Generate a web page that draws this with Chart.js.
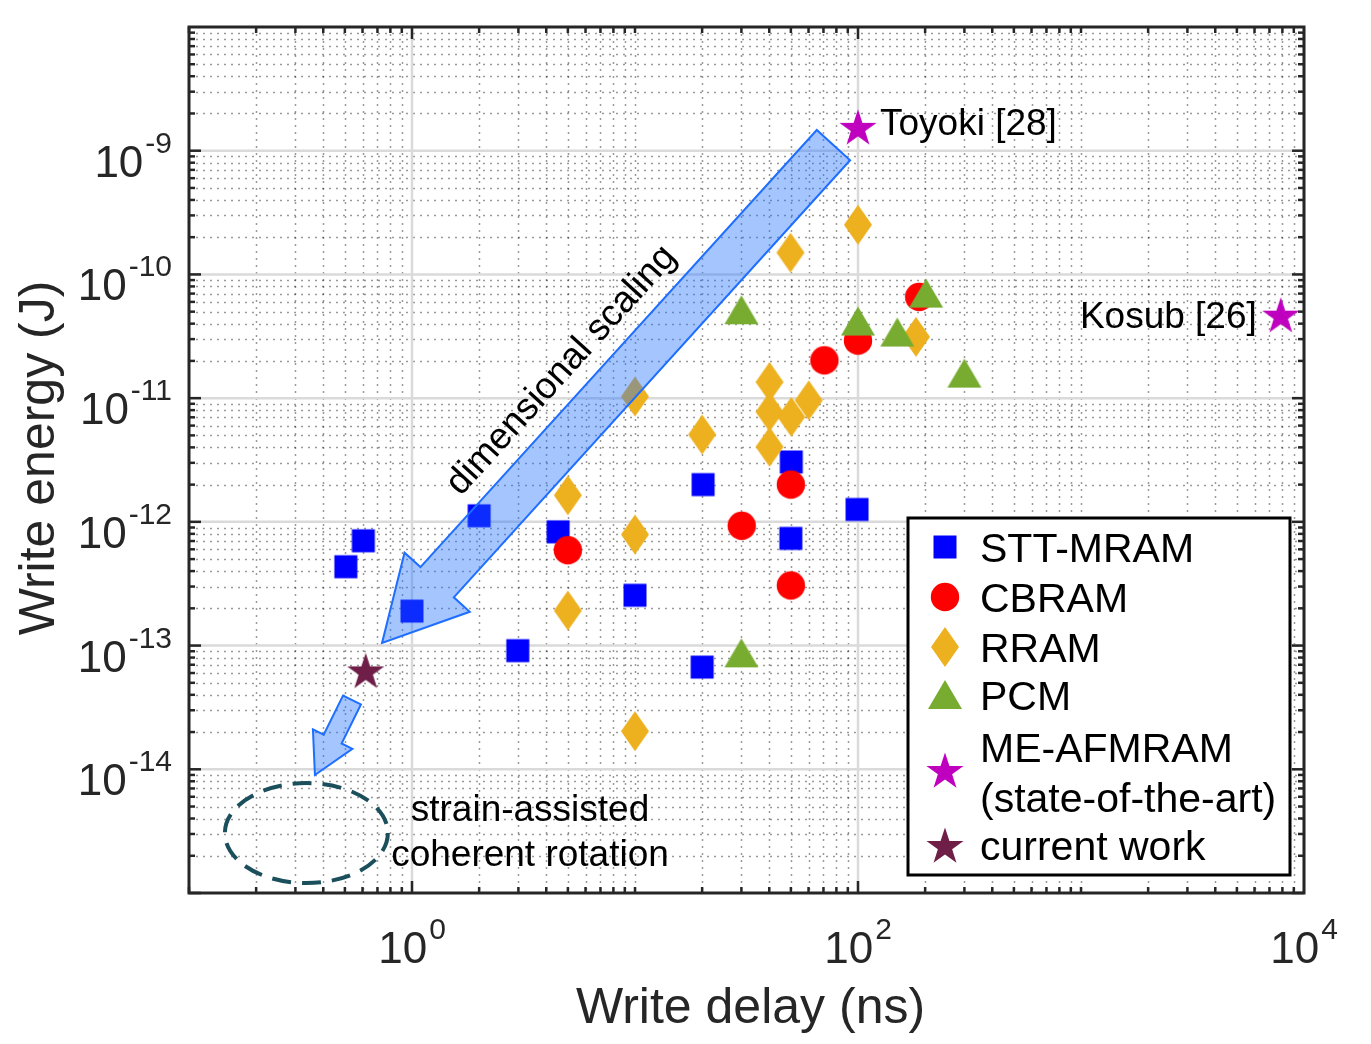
<!DOCTYPE html>
<html>
<head>
<meta charset="utf-8">
<title>Write energy vs write delay</title>
<script src="https://cdn.jsdelivr.net/npm/chart.js@4.4.1/dist/chart.umd.min.js"></script>
<style>
  html, body { margin: 0; padding: 0; background: #fff; }
  #wrap { width: 1371px; height: 1044px; }
</style>
</head>
<body>
<div id="wrap"><canvas id="chart" width="1371" height="1044"></canvas></div>
<script>
// write delay (ns) / write energy (J)
const sttDelay   = [0.505, 0.605, 1.0, 2.0, 2.98, 4.52, 10, 20.2, 20, 50.2, 50, 99];
const sttEnergy  = [4.34e-13, 7.03e-13, 1.90e-13, 1.12e-12, 9.1e-14, 8.3e-13, 2.55e-13, 2.0e-12, 6.7e-14, 3.05e-12, 7.35e-13, 1.26e-12];
const cbDelay    = [5.0, 30.1, 50, 50, 70.7, 100, 188];
const cbEnergy   = [5.9e-13, 9.3e-13, 2.0e-12, 3.06e-13, 2.02e-11, 2.92e-11, 6.58e-11];
const rramDelay  = [5, 5, 10, 10, 10, 20, 40.1, 40.1, 40.1, 49.8, 50.2, 60.1, 100, 182];
const rramEnergy = [1.64e-12, 1.92e-13, 1.03e-11, 7.9e-13, 2.03e-14, 5.08e-12, 1.35e-11, 7.75e-12, 4.04e-12, 1.5e-10, 7.06e-12, 9.6e-12, 2.52e-10, 3.13e-11];
const pcmDelay   = [30, 30, 100, 150, 202, 300];
const pcmEnergy  = [5.13e-11, 8.65e-14, 4.16e-11, 3.39e-11, 7.0e-11, 1.58e-11];
const meDelay    = [100, 7870];
const meEnergy   = [1.56e-9, 4.73e-11];
const meNames    = ['Toyoki [28]', 'Kosub [26]'];
const curDelay   = [0.62];
const curEnergy  = [6.3e-14];

const seriesLabels = ['STT-MRAM', 'CBRAM', 'RRAM', 'PCM', 'ME-AFMRAM\n(state-of-the-art)', 'current work'];
const xTickExps = [0, 2, 4];
const yTickExps = [-9, -10, -11, -12, -13, -14];

const FONT = '"Liberation Sans", Arial, Helvetica, sans-serif';
const AXIS = '#262626';

function pts(xs, ys) { return xs.map((v, i) => ({ x: v, y: ys[i] })); }

// MATLAB-like marker glyphs
function marker(shape, color) {
  const c = document.createElement('canvas');
  c.width = 44; c.height = 44;
  const g = c.getContext('2d');
  const m = 22;
  g.fillStyle = color;
  g.beginPath();
  if (shape === 'square') g.rect(m - 11.5, m - 11.5, 23, 23);
  else if (shape === 'circle') g.arc(m, m, 14.2, 0, Math.PI * 2);
  else if (shape === 'diamond') { g.moveTo(m, m - 20); g.lineTo(m + 14, m); g.lineTo(m, m + 20); g.lineTo(m - 14, m); }
  else if (shape === 'triangle') { g.moveTo(m, m - 15); g.lineTo(m + 17, m + 14); g.lineTo(m - 17, m + 14); }
  else if (shape === 'star') {
    for (let i = 0; i < 10; i++) {
      const r = i % 2 ? 7.5 : 19.5;
      const a = -Math.PI / 2 + i * Math.PI / 5;
      const px = m + r * Math.cos(a), py = m + 2 + r * Math.sin(a);
      i ? g.lineTo(px, py) : g.moveTo(px, py);
    }
  }
  g.closePath();
  g.fill();
  return c;
}

function blockArrow(ctx, x0, y0, x1, y1, shaftW, headW, headL) {
  const len = Math.hypot(x1 - x0, y1 - y0);
  const ux = (x1 - x0) / len, uy = (y1 - y0) / len, nx = -uy, ny = ux;
  const bx = x1 - ux * headL, by = y1 - uy * headL;
  const p = [
    [x0 + nx * shaftW / 2, y0 + ny * shaftW / 2],
    [bx + nx * shaftW / 2, by + ny * shaftW / 2],
    [bx + nx * headW / 2, by + ny * headW / 2],
    [x1, y1],
    [bx - nx * headW / 2, by - ny * headW / 2],
    [bx - nx * shaftW / 2, by - ny * shaftW / 2],
    [x0 - nx * shaftW / 2, y0 - ny * shaftW / 2]
  ];
  ctx.beginPath();
  p.forEach((q, i) => i ? ctx.lineTo(q[0], q[1]) : ctx.moveTo(q[0], q[1]));
  ctx.closePath();
  ctx.fillStyle = 'rgba(30,110,255,0.4)';
  ctx.fill();
  ctx.lineWidth = 2;
  ctx.strokeStyle = '#1e6eff';
  ctx.stroke();
}

function powLabel(ctx, exp, x, base, align) {
  ctx.font = '44px ' + FONT;
  const w1 = ctx.measureText('10').width;
  ctx.font = '30px ' + FONT;
  const s = String(exp);
  const w2 = ctx.measureText(s).width;
  const total = w1 + 2 + w2;
  const start = align === 'right' ? x - total : x - total / 2;
  ctx.textAlign = 'left';
  ctx.textBaseline = 'alphabetic';
  ctx.fillStyle = '#262626';
  ctx.font = '44px ' + FONT;
  ctx.fillText('10', start, base);
  ctx.font = '30px ' + FONT;
  ctx.fillText(s, start + w1 + 2, base - 24);
}

const gridAndAxes = {
  id: 'gridAndAxes',
  beforeDatasetsDraw(chart) {
    const { ctx, chartArea: a, scales: { x, y } } = chart;
    ctx.save();
    // minor grid (dotted)
    ctx.lineWidth = 1.5;
    ctx.strokeStyle = 'rgba(0,0,0,0.4)';
    ctx.setLineDash([2, 5]);
    for (let e = -1; e < 4; e++) for (let k = 1; k < 10; k++) {
      if (k === 1 && (xTickExps.includes(e) || e === -1)) continue;
      const px = Math.round(x.getPixelForValue(k * Math.pow(10, e))) + 0.5;
      ctx.beginPath(); ctx.moveTo(px, a.top); ctx.lineTo(px, a.bottom); ctx.stroke();
    }
    for (let e = -15; e < -8; e++) for (let k = 2; k < 10; k++) {
      const py = Math.round(y.getPixelForValue(k * Math.pow(10, e))) + 0.5;
      ctx.beginPath(); ctx.moveTo(a.left, py); ctx.lineTo(a.right, py); ctx.stroke();
    }
    // major grid (solid)
    ctx.setLineDash([]);
    ctx.lineWidth = 2.5;
    ctx.strokeStyle = '#dadada';
    xTickExps.forEach(e => {
      const px = x.getPixelForValue(Math.pow(10, e));
      ctx.beginPath(); ctx.moveTo(px, a.top); ctx.lineTo(px, a.bottom); ctx.stroke();
    });
    yTickExps.forEach(e => {
      const py = y.getPixelForValue(Math.pow(10, e));
      ctx.beginPath(); ctx.moveTo(a.left, py); ctx.lineTo(a.right, py); ctx.stroke();
    });
    ctx.restore();
  },
  afterDatasetsDraw(chart) {
    const { ctx, chartArea: a, scales: { x, y } } = chart;
    const P = (vx, vy) => [x.getPixelForValue(vx), y.getPixelForValue(vy)];
    ctx.save();

    // dimensional scaling arrow + label
    const tail = P(77.6, 1.11e-9), tip = P(0.734, 1.05e-13);
    blockArrow(ctx, tail[0], tail[1], tip[0], tip[1], 45, 88, 82);
    const ang = Math.atan2(tail[1] - tip[1], tail[0] - tip[0]);
    const len = Math.hypot(tail[0] - tip[0], tail[1] - tip[1]);
    const ux = (tail[0] - tip[0]) / len, uy = (tail[1] - tip[1]) / len;
    const cx = tip[0] + ux * len * 0.48 + uy * 50, cy = tip[1] + uy * len * 0.48 - ux * 50;
    ctx.save();
    ctx.translate(cx, cy);
    ctx.rotate(ang);
    ctx.font = '37px ' + FONT;
    ctx.fillStyle = '#000';
    ctx.textAlign = 'center';
    ctx.textBaseline = 'middle';
    ctx.fillText('dimensional scaling', 0, 0);
    ctx.restore();

    // small arrow towards strain-assisted region
    const t2 = P(0.538, 3.63e-14), h2 = P(0.367, 9.0e-15);
    blockArrow(ctx, t2[0], t2[1], h2[0], h2[1], 20, 44, 40);

    // dashed ellipse
    const ec = P(0.336, 3.05e-15);
    ctx.beginPath();
    ctx.ellipse(ec[0], ec[1], 81.5, 50, 0, 0, Math.PI * 2);
    ctx.setLineDash([19, 11]);
    ctx.lineWidth = 4;
    ctx.strokeStyle = '#1b4f5c';
    ctx.stroke();
    ctx.setLineDash([]);

    ctx.font = '37px ' + FONT;
    ctx.fillStyle = '#000';
    ctx.textBaseline = 'alphabetic';
    ctx.textAlign = 'center';
    ctx.fillText('strain-assisted', 530, 821);
    ctx.fillText('coherent rotation', 530, 866);

    // state-of-the-art labels
    const s1 = P(meDelay[0], meEnergy[0]), s2 = P(meDelay[1], meEnergy[1]);
    ctx.textAlign = 'left';
    ctx.fillText(meNames[0], s1[0] + 22, s1[1] + 8);
    ctx.textAlign = 'right';
    ctx.fillText(meNames[1], s2[0] - 24, s2[1] + 13);

    // axes box with inward ticks on all sides
    ctx.strokeStyle = AXIS;
    ctx.lineWidth = 2.5;
    const tick = (px, py, dx, dy) => { ctx.beginPath(); ctx.moveTo(px, py); ctx.lineTo(px + dx, py + dy); ctx.stroke(); };
    for (let e = -1; e < 4; e++) for (let k = 1; k < 10; k++) {
      const v = k * Math.pow(10, e);
      const px = x.getPixelForValue(v);
      const L = (k === 1 && xTickExps.includes(e)) ? 12 : 6;
      tick(px, a.bottom, 0, -L); tick(px, a.top, 0, L);
    }
    for (let e = -15; e < -8; e++) for (let k = 1; k < 10; k++) {
      const py = y.getPixelForValue(k * Math.pow(10, e));
      const L = k === 1 ? 12 : 6;
      tick(a.left, py, L, 0); tick(a.right, py, -L, 0);
    }
    ctx.lineWidth = 3;
    ctx.strokeRect(a.left, a.top, a.right - a.left, a.bottom - a.top);

    // tick labels
    xTickExps.forEach(e => powLabel(ctx, e, x.getPixelForValue(Math.pow(10, e)), a.bottom + 70, 'center'));
    yTickExps.forEach(e => powLabel(ctx, e, a.left - 17, y.getPixelForValue(Math.pow(10, e)) + 26, 'right'));

    // axis titles
    ctx.fillStyle = '#262626';
    ctx.font = '50px ' + FONT;
    ctx.textAlign = 'center';
    ctx.textBaseline = 'alphabetic';
    ctx.fillText('Write delay (ns)', (a.left + a.right) / 2 + 4, 1023);
    ctx.save();
    ctx.translate(54, (a.top + a.bottom) / 2 - 2);
    ctx.rotate(-Math.PI / 2);
    ctx.fillText('Write energy (J)', 0, 0);
    ctx.restore();

    // legend box
    const lx = 908, ly = 518, lw = 382, lh = 357;
    ctx.fillStyle = '#fff';
    ctx.fillRect(lx, ly, lw, lh);
    ctx.lineWidth = 3;
    ctx.strokeStyle = '#000';
    ctx.strokeRect(lx, ly, lw, lh);
    const rows = [547, 597, 647, 695, 770, 845];
    ctx.font = '41px ' + FONT;
    ctx.fillStyle = '#000';
    ctx.textAlign = 'left';
    chart.data.datasets.forEach((ds, i) => {
      const img = ds.pointStyle;
      ctx.drawImage(img, 945 - img.width / 2, rows[i] - img.height / 2);
      const lines = seriesLabels[i].split('\n');
      if (lines.length === 1) ctx.fillText(lines[0], 980, rows[i] + 15);
      else { ctx.fillText(lines[0], 980, rows[i] - 8); ctx.fillText(lines[1], 980, rows[i] + 42); }
    });
    ctx.restore();
  }
};

const shapes = ['square', 'circle', 'diamond', 'triangle', 'star', 'star'];
const colors = ['#0000ff', '#ff0000', '#edb120', '#77ac30', '#bf00bf', '#6e1e47'];
const series = [pts(sttDelay, sttEnergy), pts(cbDelay, cbEnergy), pts(rramDelay, rramEnergy),
                pts(pcmDelay, pcmEnergy), pts(meDelay, meEnergy), pts(curDelay, curEnergy)];

new Chart(document.getElementById('chart'), {
  type: 'scatter',
  data: {
    datasets: series.map((d, i) => ({
      label: seriesLabels[i],
      data: d,
      pointStyle: marker(shapes[i], colors[i]),
      pointRadius: 12,
      backgroundColor: colors[i],
      borderColor: colors[i],
      order: 6 - i
    }))
  },
  options: {
    responsive: false,
    animation: false,
    events: [],
    layout: { padding: { left: 189, top: 27, right: 67, bottom: 151 } },
    plugins: { legend: { display: false }, tooltip: { enabled: false } },
    scales: {
      x: { type: 'logarithmic', min: 0.1, max: 1e4, display: false },
      y: { type: 'logarithmic', min: 1e-15, max: 1e-8, display: false }
    }
  },
  plugins: [gridAndAxes]
});
</script>
</body>
</html>
